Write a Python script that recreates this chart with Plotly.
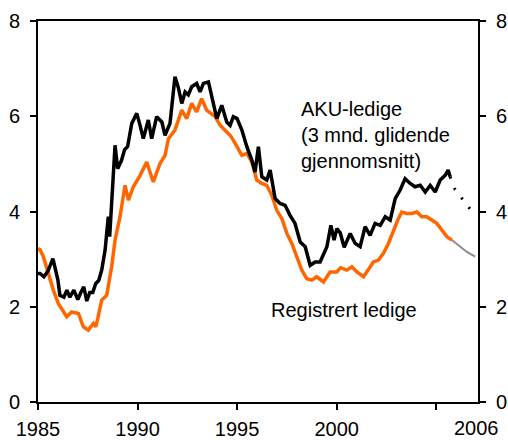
import plotly.graph_objects as go

# AKU-ledige (3 mnd. glidende gjennomsnitt), per cent
aku_x = [1985.0, 1985.1, 1985.3, 1985.5, 1985.75, 1985.9, 1986.0, 1986.1, 1986.3, 1986.45,
         1986.6, 1986.8, 1987.0, 1987.15, 1987.3, 1987.45, 1987.6, 1987.75, 1987.9, 1988.05,
         1988.2, 1988.37, 1988.53, 1988.6, 1988.78, 1988.87, 1989.0, 1989.2, 1989.35, 1989.5,
         1989.71, 1989.96, 1990.1, 1990.29, 1990.54, 1990.71, 1990.96, 1991.22, 1991.38, 1991.63,
         1991.88, 1992.05, 1992.22, 1992.39, 1992.55, 1992.72, 1992.97, 1993.14, 1993.31, 1993.56,
         1993.73, 1993.98, 1994.23, 1994.48, 1994.65, 1994.81, 1995.0, 1995.24, 1995.49, 1995.74,
         1995.9, 1996.07, 1996.24, 1996.49, 1996.66, 1996.91, 1997.16, 1997.41, 1997.66, 1997.91,
         1998.17, 1998.42, 1998.67, 1998.92, 1999.17, 1999.51, 1999.71, 1999.87, 2000.01, 2000.18,
         2000.38, 2000.68, 2000.93, 2001.18, 2001.43, 2001.68, 2001.93, 2002.19, 2002.44, 2002.69,
         2002.94, 2003.19, 2003.44, 2003.69, 2003.94, 2004.2, 2004.45, 2004.7, 2004.95, 2005.2,
         2005.45, 2005.6, 2005.7]
aku_y = [2.70, 2.70, 2.63, 2.75, 3.01, 2.75, 2.56, 2.24, 2.20, 2.35,
         2.20, 2.35, 2.15, 2.30, 2.42, 2.12, 2.30, 2.30, 2.49, 2.55,
         2.77, 3.19, 3.89, 3.47, 4.80, 5.39, 4.90, 5.08, 5.30, 5.36,
         5.85, 6.06, 5.85, 5.53, 5.92, 5.53, 5.99, 5.88, 5.60, 5.85,
         6.83, 6.60, 6.27, 6.51, 6.45, 6.62, 6.69, 6.51, 6.69, 6.72,
         6.41, 5.95, 6.23, 5.88, 5.81, 5.99, 5.95, 5.71, 5.36, 5.08,
         4.83, 5.36, 4.73, 4.66, 4.87, 4.27, 4.17, 4.13, 3.92, 3.75,
         3.36, 3.26, 2.87, 2.94, 2.94, 3.26, 3.71, 3.40, 3.64, 3.55,
         3.25, 3.54, 3.33, 3.26, 3.68, 3.50, 3.75, 3.71, 3.89, 3.82,
         4.27, 4.45, 4.69, 4.59, 4.52, 4.55, 4.41, 4.55, 4.41, 4.66,
         4.76, 4.87, 4.73]

# AKU projection (dotted)
aku_proj_x = [2005.7, 2005.95, 2006.4, 2006.8]
aku_proj_y = [4.73, 4.46, 4.22, 4.00]

# Registrert ledige, per cent
reg_x = [1985.0, 1985.1, 1985.27, 1985.52, 1985.77, 1986.02, 1986.27, 1986.44, 1986.69, 1987.03,
         1987.28, 1987.53, 1987.78, 1987.9, 1988.0, 1988.2, 1988.45, 1988.7, 1988.87, 1989.12,
         1989.37, 1989.54, 1989.79, 1990.13, 1990.46, 1990.79, 1991.13, 1991.38, 1991.55, 1991.88,
         1992.22, 1992.47, 1992.72, 1992.97, 1993.22, 1993.47, 1993.9, 1994.15, 1994.48, 1994.65,
         1994.81, 1994.98, 1995.24, 1995.49, 1995.74, 1995.99, 1996.24, 1996.49, 1996.74, 1996.99,
         1997.25, 1997.5, 1997.75, 1998.0, 1998.25, 1998.5, 1998.75, 1999.0, 1999.34, 1999.67,
         2000.01, 2000.2, 2000.51, 2000.76, 2001.02, 2001.35, 2001.6, 2001.85, 2002.1, 2002.35,
         2002.6, 2002.85, 2003.1, 2003.27, 2003.53, 2003.78, 2004.03, 2004.28, 2004.53, 2004.78,
         2005.03, 2005.29, 2005.54, 2005.79]
reg_y = [3.22, 3.20, 3.05, 2.70, 2.35, 2.07, 1.89, 1.79, 1.89, 1.86,
         1.58, 1.51, 1.65, 1.58, 1.75, 2.14, 2.24, 2.84, 3.40, 3.89,
         4.55, 4.24, 4.52, 4.76, 5.04, 4.62, 5.01, 5.18, 5.53, 5.71,
         6.13, 5.95, 6.27, 6.09, 6.37, 6.13, 5.99, 5.81, 5.67, 5.60,
         5.50, 5.36, 5.18, 5.22, 5.04, 4.66, 4.59, 4.55, 4.34, 4.03,
         3.85, 3.54, 3.33, 3.05, 2.77, 2.59, 2.56, 2.63, 2.52, 2.73,
         2.73, 2.82, 2.77, 2.84, 2.73, 2.63, 2.80, 2.94, 2.98, 3.12,
         3.33, 3.61, 3.85, 3.99, 3.96, 3.96, 3.99, 3.89, 3.89, 3.82,
         3.75, 3.61, 3.47, 3.40]

# Registrert ledige projection (grey)
reg_proj_x = [2005.79, 2006.21, 2006.54, 2006.96]
reg_proj_y = [3.40, 3.26, 3.15, 3.05]

y_ticks = [0, 2, 4, 6, 8]
x_ticks = [1985, 1990, 1995, 2000, 2005]
x_tick_text = ["1985", "1990", "1995", "2000", ""]
last_label = "2006"

FONT = "Liberation Sans, Arial, sans-serif"
ORANGE = "#FF6600"
FS = 20

fig = go.Figure()
fig.add_trace(go.Scatter(x=reg_x, y=reg_y, mode="lines",
                         line=dict(color=ORANGE, width=3.5), showlegend=False))
fig.add_trace(go.Scatter(x=reg_proj_x, y=reg_proj_y, mode="lines",
                         line=dict(color="#8C8C8C", width=2), showlegend=False))
fig.add_trace(go.Scatter(x=aku_x, y=aku_y, mode="lines",
                         line=dict(color="black", width=3.5), showlegend=False))
fig.add_trace(go.Scatter(x=aku_proj_x, y=aku_proj_y, mode="lines",
                         line=dict(color="black", width=3, dash="2px,10px"), showlegend=False))
# invisible trace for the right axis
fig.add_trace(go.Scatter(x=[1985], y=[0], yaxis="y2", mode="markers",
                         marker=dict(opacity=0), showlegend=False, hoverinfo="skip"))

fig.add_annotation(x=1998.1, y=6.42, xref="x", yref="y", xanchor="left", yanchor="top",
                   align="left", showarrow=False,
                   text="AKU-ledige<br>(3 mnd. glidende<br>gjennomsnitt)",
                   font=dict(family=FONT, size=FS, color="black"))
fig.add_annotation(x=1996.6, y=1.93, xref="x", yref="y", xanchor="left", yanchor="middle",
                   showarrow=False, text="Registrert ledige",
                   font=dict(family=FONT, size=FS, color="black"))
fig.add_annotation(x=1.0, y=0, xref="paper", yref="paper", xanchor="center", yanchor="top",
                   yshift=-14, xshift=-2, borderpad=0, showarrow=False, text=last_label,
                   font=dict(family=FONT, size=FS, color="black"))

axis_common = dict(showgrid=False, zeroline=False, showline=True, linecolor="black",
                   linewidth=2, ticks="outside", ticklen=6, tickwidth=2, tickcolor="black",
                   automargin=False,
                   tickfont=dict(family=FONT, size=FS, color="black"))

fig.update_layout(
    width=508, height=440,
    margin=dict(l=38, r=30, t=21, b=38),
    paper_bgcolor="white", plot_bgcolor="white",
    xaxis=dict(range=[1985, 2007.1], tickvals=x_ticks, ticktext=x_tick_text,
               mirror=True, ticklabelstandoff=2, **axis_common),
    yaxis=dict(range=[0, 8], tickvals=y_ticks, ticklabelstandoff=6, **axis_common),
    yaxis2=dict(range=[0, 8], tickvals=y_ticks, overlaying="y", side="right",
                ticklabelstandoff=6, **axis_common),
)

fig.write_html("out.html", config={"displayModeBar": False})

# remove the default 8px page margin so the figure fills the window exactly
with open("out.html", "r", encoding="utf-8") as f:
    html = f.read()
html = html.replace("<head>", "<head><style>html,body{margin:0;padding:0;overflow:hidden;}</style>", 1)
with open("out.html", "w", encoding="utf-8") as f:
    f.write(html)
